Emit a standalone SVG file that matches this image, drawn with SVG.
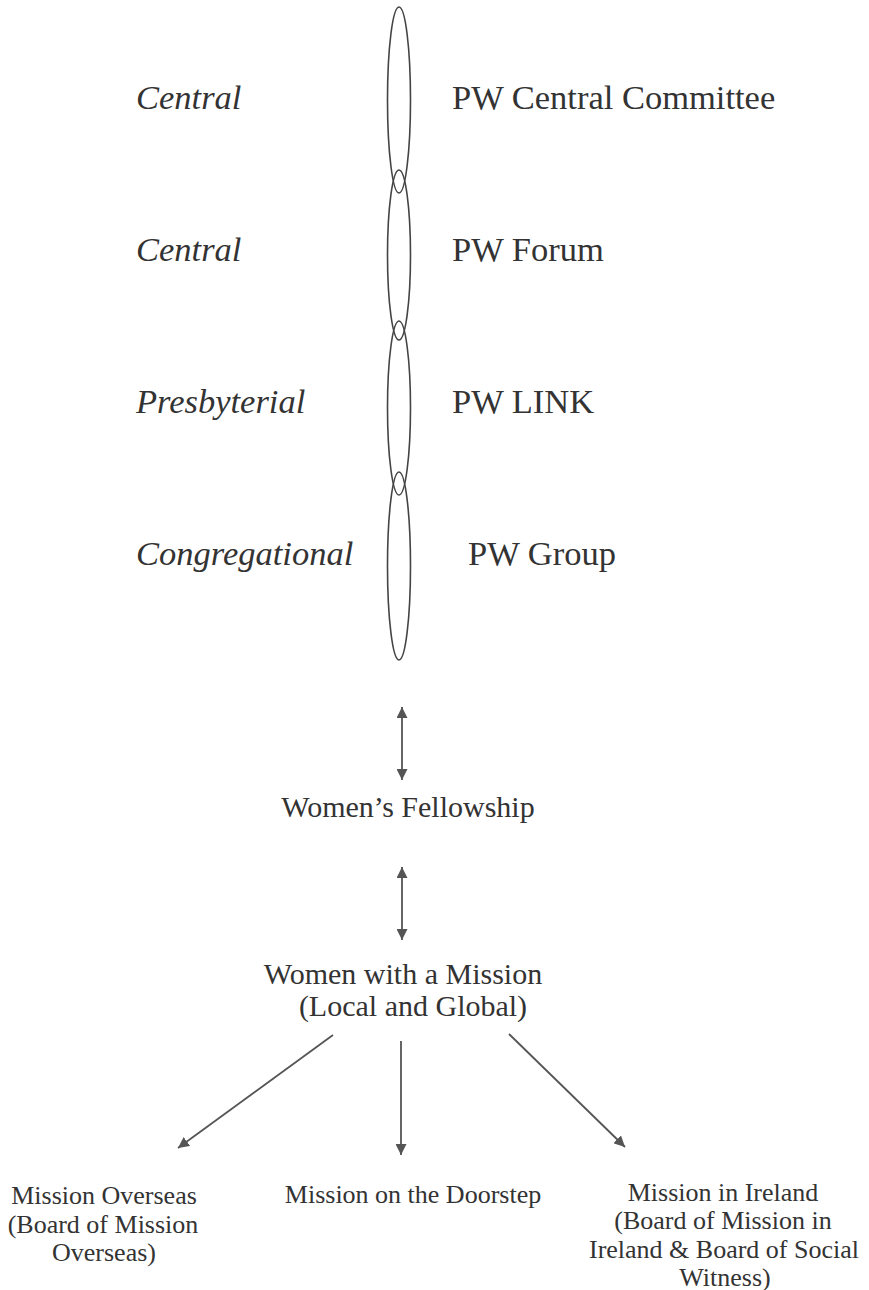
<svg xmlns="http://www.w3.org/2000/svg" width="869" height="1290" viewBox="0 0 869 1290">
<defs>
<style>
text{font-family:"Liberation Serif","Times New Roman",serif;fill:#333}
.lv{font-size:34.5px;font-style:italic}
.lb{font-size:34.5px}
.md{font-size:30px}
.sm{font-size:26px}
.el{fill:none;stroke:#444;stroke-width:1.6}
.ar{stroke:#555;stroke-width:1.8;fill:none}
</style>
<marker id="ah" viewBox="0 0 10 10" refX="10" refY="5" markerWidth="11" markerHeight="11" markerUnits="userSpaceOnUse" orient="auto-start-reverse">
<path d="M0,0 L10,5 L0,10 Z" fill="#555"/>
</marker>
</defs>
<rect width="869" height="1290" fill="#fff"/>
<g id="chain">
<ellipse class="el" cx="399" cy="100" rx="11.5" ry="93"/>
<ellipse class="el" cx="399" cy="255" rx="11.5" ry="85"/>
<ellipse class="el" cx="399" cy="408" rx="11.5" ry="87"/>
<ellipse class="el" cx="399" cy="566" rx="11.5" ry="94"/>
</g>
<g id="level-central-1"><text class="lv" x="136" y="109">Central</text></g>
<g id="pw-central-committee"><text class="lb" x="452" y="109">PW Central Committee</text></g>
<g id="level-central-2"><text class="lv" x="136" y="261">Central</text></g>
<g id="pw-forum"><text class="lb" x="452" y="261">PW Forum</text></g>
<g id="level-presbyterial"><text class="lv" x="136" y="413">Presbyterial</text></g>
<g id="pw-link"><text class="lb" x="452" y="413">PW LINK</text></g>
<g id="level-congregational"><text class="lv" x="136" y="565">Congregational</text></g>
<g id="pw-group"><text class="lb" x="468" y="565">PW Group</text></g>
<g id="womens-fellowship"><text class="md" x="408" y="817" text-anchor="middle">Women’s Fellowship</text></g>
<g id="women-with-a-mission">
<text class="md" x="403" y="984" text-anchor="middle">Women with a Mission</text>
<text class="md" x="413" y="1016" text-anchor="middle">(Local and Global)</text>
</g>
<g id="mission-overseas">
<text class="sm" x="104" y="1204" text-anchor="middle">Mission Overseas</text>
<text class="sm" x="103" y="1233" text-anchor="middle">(Board of Mission</text>
<text class="sm" x="104" y="1261" text-anchor="middle">Overseas)</text>
</g>
<g id="mission-doorstep">
<text class="sm" x="413" y="1203" text-anchor="middle">Mission on the Doorstep</text>
</g>
<g id="mission-ireland">
<text class="sm" x="723" y="1201" text-anchor="middle">Mission in Ireland</text>
<text class="sm" x="723" y="1229" text-anchor="middle">(Board of Mission in</text>
<text class="sm" x="724" y="1258" text-anchor="middle">Ireland &amp; Board of Social</text>
<text class="sm" x="725" y="1286" text-anchor="middle">Witness)</text>
</g>
<g id="connectors">
<line class="ar" x1="402" y1="707" x2="402" y2="780" marker-start="url(#ah)" marker-end="url(#ah)"/>
<line class="ar" x1="402" y1="867" x2="402" y2="940" marker-start="url(#ah)" marker-end="url(#ah)"/>
<line class="ar" x1="333" y1="1035" x2="178" y2="1148" marker-end="url(#ah)"/>
<line class="ar" x1="401" y1="1041" x2="401" y2="1155" marker-end="url(#ah)"/>
<line class="ar" x1="509" y1="1034" x2="625" y2="1147" marker-end="url(#ah)"/>
</g>
</svg>
